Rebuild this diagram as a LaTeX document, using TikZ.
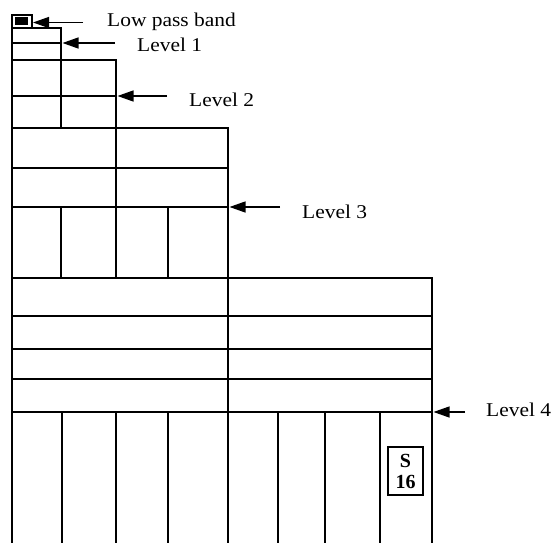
\documentclass[tikz,border=0pt]{standalone}
\usepackage{fontspec}
\setmainfont{Liberation Serif}
\usetikzlibrary{arrows.meta}
\tikzset{
  grid/.style={line width=1.3pt, line cap=rect},
  lbl/.style={anchor=base west, inner sep=0pt, font=\fontsize{19.5}{21}\selectfont, xscale=1.1},
  pointer/.style={line width=1.3pt, -{Triangle[length=16pt,width=11pt]}}
}
\begin{document}
\begin{tikzpicture}[x=1pt,y=-1pt]
\useasboundingbox (0,0) rectangle (554,543);
% outer left edge
\draw[grid] (12,15) -- (12,543);
% low pass box
\draw[grid] (12,15) rectangle (32,28);
\fill (15,17) rectangle (28,25.5);
% level 1
\draw[grid] (12,28) -- (61,28) -- (61,128);
\draw[grid] (12,43) -- (61,43);
% level 2
\draw[grid] (12,60) -- (116,60) -- (116,278);
\draw[grid] (12,96) -- (116,96);
% level 3
\draw[grid] (12,128) -- (228,128) -- (228,543);
\draw[grid] (12,168) -- (228,168);
\draw[grid] (12,207) -- (228,207);
\draw[grid] (61,207) -- (61,278);
\draw[grid] (168,207) -- (168,278);
% level 4
\draw[grid] (12,278) -- (432,278) -- (432,543);
\foreach \yy in {316,349,379,412} \draw[grid] (12,\yy) -- (432,\yy);
\foreach \xx in {62,116,168,278,325,380} \draw[grid] (\xx,412) -- (\xx,543);
% S16 box
\node[draw, line width=2.4pt, minimum width=35pt, minimum height=48pt, inner sep=0pt, align=center,
  font=\fontsize{20}{21}\selectfont\bfseries] (s16) at (405.5,471) {S\\16};
% labels
\node[lbl] (lp) at (107,27) {Low pass band};
\node[lbl] (l1) at (137,51.5) {Level 1};
\node[lbl] (l2) at (189,106) {Level 2};
\node[lbl] (l3) at (302,218) {Level 3};
\node[lbl] (l4) at (486,416.5) {Level 4};
% arrows
\coordinate (tlp) at (83,22.5); \coordinate (hlp) at (33,22.5);
\coordinate (t1) at (115,43); \coordinate (h1) at (62.5,43);
\coordinate (t2) at (167,96); \coordinate (h2) at (117.5,96);
\coordinate (t3) at (280,207); \coordinate (h3) at (229.5,207);
\coordinate (t4) at (465,412); \coordinate (h4) at (433.5,412);
\draw[pointer] (tlp) -- (hlp);
\draw[pointer] (t1) -- (h1);
\draw[pointer] (t2) -- (h2);
\draw[pointer] (t3) -- (h3);
\draw[pointer] (t4) -- (h4);
\end{tikzpicture}
\end{document}
